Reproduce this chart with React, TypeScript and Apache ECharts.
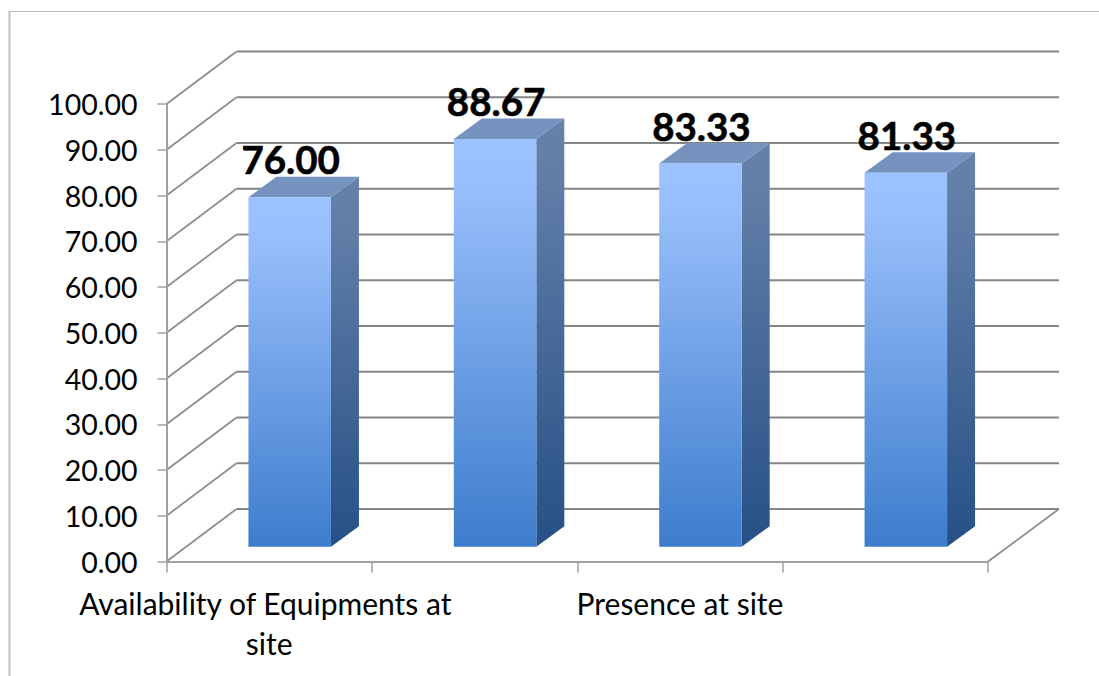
import React, { useEffect, useRef } from "react";
import * as echarts from "echarts";

const categories = ["Availability of Equipments at site", "", "Presence at site", ""];
const values = [76.0, 88.67, 83.33, 81.33];
const wallTicks = [0, 10, 20, 30, 40, 50, 60, 70, 80, 90, 100];

const FONT = "Lato, Carlito, Calibri, sans-serif";
const WALL_DX = 70;
const WALL_DY = -52.5;
const BAR_WIDTH = 82.5;
const BAR_DX = 28;
const BAR_DY = -20.5;
const BAR_SHIFT_X = 20.5;
const BAR_LIFT = 14.8;
const BAR_RISE = 1.005;

// Receding wall: a diagonal from the value axis, then a horizontal along the back.
function renderWallLine(params: any, api: any) {
  const [, y] = api.coord([0, api.value(1)]);
  const left = params.coordSys.x;
  const right = left + params.coordSys.width;
  const isFloor = api.value(1) === 0;
  const children: any[] = [
    {
      type: "line",
      shape: { x1: left, y1: y, x2: left + WALL_DX, y2: y + WALL_DY },
      style: { stroke: "#8f8f8f", lineWidth: 1.8 },
    },
    {
      type: "line",
      shape: { x1: left + WALL_DX, y1: y + WALL_DY, x2: right + WALL_DX + 1, y2: y + WALL_DY },
      style: { stroke: "#858585", lineWidth: 2.2 },
    },
  ];
  if (isFloor) {
    children.push({
      type: "line",
      shape: { x1: right, y1: y, x2: right + WALL_DX + 1, y2: y + WALL_DY },
      style: { stroke: "#8f8f8f", lineWidth: 1.8 },
    });
  }
  return { type: "group", x: 0, y: 0, children };
}

// Extruded column: front face, top face, side face and its value above.
function renderColumn(_params: any, api: any) {
  const value = api.value(1);
  const [cx, zeroY] = api.coord([api.value(0), 0]);
  const [, valueY] = api.coord([api.value(0), value]);
  const x0 = cx + BAR_SHIFT_X - BAR_WIDTH / 2;
  const x1 = x0 + BAR_WIDTH;
  const bottom = zeroY - BAR_LIFT;
  const top = bottom - (zeroY - valueY) * BAR_RISE;

  const front = new echarts.graphic.LinearGradient(0, 0, 0, 1, [
    { offset: 0, color: "#9CC2FF" },
    { offset: 0.12, color: "#98BEFB" },
    { offset: 1, color: "#3D7DCC" },
  ]);
  const side = new echarts.graphic.LinearGradient(0, 0, 0, 1, [
    { offset: 0, color: "#6680A9" },
    { offset: 0.12, color: "#627EA8" },
    { offset: 1, color: "#265086" },
  ]);

  return {
    type: "group",
    children: [
      {
        type: "polygon",
        shape: { points: [[x1, top], [x1 + BAR_DX, top + BAR_DY], [x1 + BAR_DX, bottom + BAR_DY], [x1, bottom]] },
        style: { fill: side },
      },
      {
        type: "polygon",
        shape: { points: [[x0, top], [x0 + BAR_DX, top + BAR_DY], [x1 + BAR_DX, top + BAR_DY], [x1, top]] },
        style: { fill: "#7693C0" },
      },
      {
        type: "rect",
        shape: { x: x0, y: top, width: BAR_WIDTH, height: bottom - top },
        style: { fill: front },
      },
      {
        type: "text",
        x: cx + BAR_SHIFT_X + 1,
        y: top + BAR_DY + 2,
        z2: 10,
        style: {
          text: value.toFixed(2),
          fill: "#000",
          stroke: "#000",
          lineWidth: 0.6,
          font: `bold 38.5px ${FONT}`,
          align: "center",
          verticalAlign: "bottom",
        },
      },
    ],
  };
}

export default function App() {
  const ref = useRef<HTMLDivElement>(null);

  useEffect(() => {
    const chart = echarts.init(ref.current!, undefined, { renderer: "svg" });
    chart.setOption({
      animation: false,
      backgroundColor: "#fff",
      grid: { left: 166.5, top: 104, width: 821.5, height: 457.5 },
      xAxis: {
        type: "category",
        data: categories,
        z: 5,
        axisLine: { show: true, lineStyle: { color: "#a0a0a0", width: 2 } },
        axisTick: { show: true, interval: 0, length: 11, lineStyle: { color: "#a0a0a0", width: 1.5 } },
        axisLabel: {
          interval: 0,
          width: 390,
          overflow: "break",
          margin: 21,
          lineHeight: 40,
          color: "#000",
          fontFamily: FONT,
          fontSize: 30,
        },
      },
      yAxis: {
        type: "value",
        min: 0,
        max: 100,
        interval: 10,
        z: 5,
        splitLine: { show: false },
        axisLine: { show: true, onZero: false, lineStyle: { color: "#a0a0a0", width: 2 } },
        axisTick: { show: true, length: 9, lineStyle: { color: "#a0a0a0", width: 1.5 } },
        axisLabel: {
          margin: 29,
          color: "#000",
          fontFamily: FONT,
          fontSize: 28.5,
          formatter: (v: number) => v.toFixed(2),
        },
      },
      graphic: [
        { type: "line", shape: { x1: 9, y1: 11.5, x2: 1099, y2: 11.5 }, style: { stroke: "#bdbdbd", lineWidth: 1 } },
        { type: "line", shape: { x1: 9.5, y1: 11, x2: 9.5, y2: 676 }, style: { stroke: "#bdbdbd", lineWidth: 2 } },
      ],
      series: [
        {
          type: "custom",
          renderItem: renderWallLine,
          encode: { x: 0, y: 1 },
          z: 1,
          data: wallTicks.map((t) => [0, t]),
        },
        {
          type: "custom",
          renderItem: renderColumn,
          encode: { x: 0, y: 1 },
          z: 3,
          data: values.map((v, i) => [i, v]),
        },
      ],
    });
    return () => chart.dispose();
  }, []);

  return (
    <div
      ref={ref}
      style={{ position: "absolute", left: 0, top: 0, width: 1099, height: 676, background: "#fff" }}
    />
  );
}
